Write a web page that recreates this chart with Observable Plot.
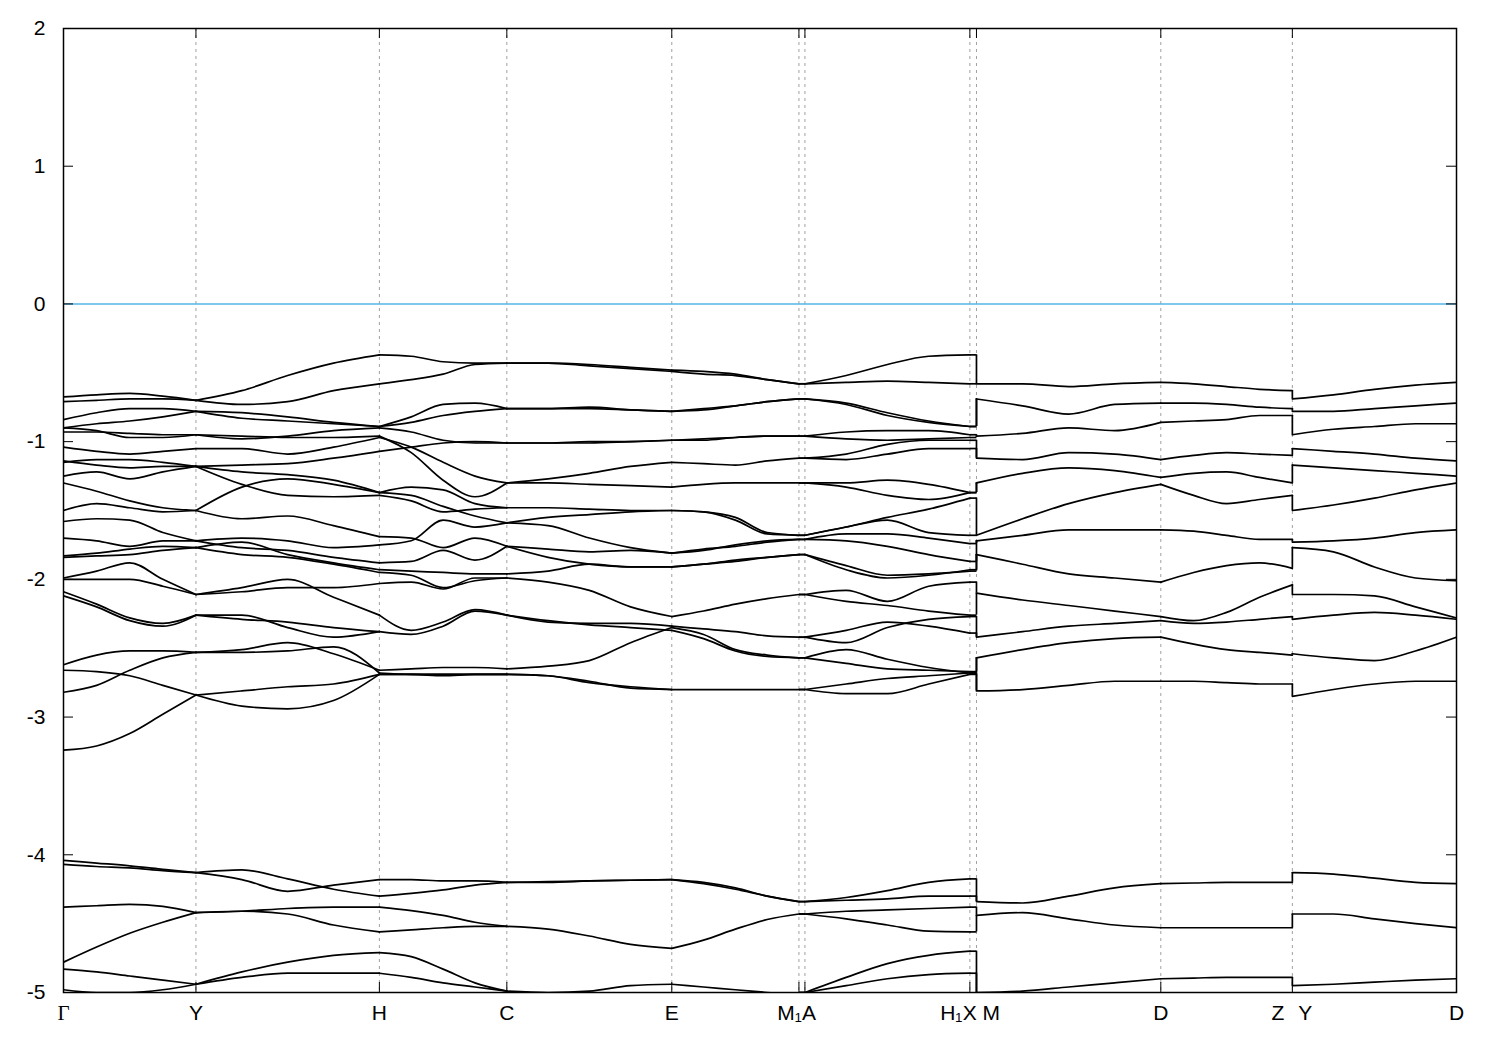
<!DOCTYPE html>
<html><head><meta charset="utf-8">
<script src="https://cdn.jsdelivr.net/npm/d3@7"></script>
<script src="https://cdn.jsdelivr.net/npm/@observablehq/plot@0.6"></script>
<style>body{margin:0;background:#fff;} svg{display:block}</style>
</head><body><div id="chart"></div>
<script>
// High-symmetry points along the k-path (path distance) and their labels
const kPos = [0, 132.5, 316, 443.5, 608.5, 735.7, 741.7, 906.7, 913.3, 1097.7, 1229.3, 1393.5];
const kLabels = ["Γ","Y","H","C","E","M₁","A","X","H₁|M","D","Z|Y","D"];
const yTicks = [-5,-4,-3,-2,-1,0,1,2];
const fermiLevel = [0];
const degeneracyMD = 2; // bands on M–D are pairwise degenerate

// Band energies (eV), sampled evenly along each path segment
const bandsGY = [
[-0.675,-0.66,-0.65,-0.67,-0.70],[-0.71,-0.70,-0.69,-0.69,-0.70],
[-0.84,-0.79,-0.76,-0.76,-0.78],[-0.90,-0.87,-0.85,-0.82,-0.78],
[-0.90,-0.92,-0.97,-0.97,-0.95],[-0.93,-0.93,-0.94,-0.95,-0.95],
[-1.04,-1.07,-1.09,-1.07,-1.05],[-1.14,-1.17,-1.19,-1.18,-1.18],
[-1.15,-1.13,-1.13,-1.15,-1.18],[-1.25,-1.22,-1.27,-1.22,-1.18],
[-1.30,-1.36,-1.43,-1.48,-1.50],[-1.50,-1.45,-1.48,-1.51,-1.50],
[-1.58,-1.56,-1.57,-1.66,-1.72],[-1.70,-1.72,-1.76,-1.72,-1.72],
[-1.83,-1.81,-1.78,-1.76,-1.77],[-1.84,-1.83,-1.82,-1.79,-1.77],
[-1.99,-1.94,-1.88,-2.00,-2.11],[-2.00,-2.00,-2.00,-2.05,-2.11],
[-2.09,-2.18,-2.28,-2.32,-2.26],[-2.12,-2.20,-2.30,-2.34,-2.26],
[-2.62,-2.55,-2.52,-2.52,-2.53],[-2.66,-2.67,-2.70,-2.77,-2.84],
[-2.82,-2.77,-2.66,-2.57,-2.53],[-3.24,-3.21,-3.12,-2.98,-2.84],
[-4.04,-4.06,-4.08,-4.105,-4.13],[-4.07,-4.085,-4.095,-4.115,-4.13],
[-4.38,-4.37,-4.36,-4.375,-4.42],[-4.78,-4.67,-4.57,-4.49,-4.42],
[-4.83,-4.85,-4.88,-4.91,-4.94],[-4.98,-5.0,-5.0,-4.98,-4.94]
];
const bandsYH = [
[-0.70,-0.63,-0.52,-0.43,-0.37],[-0.70,-0.73,-0.71,-0.63,-0.58],
[-0.78,-0.79,-0.82,-0.86,-0.89],[-0.78,-0.83,-0.85,-0.87,-0.89],
[-0.95,-0.98,-0.96,-0.92,-0.90],[-0.95,-0.96,-0.97,-0.97,-0.96],
[-1.05,-1.05,-1.09,-1.04,-0.97],[-1.18,-1.31,-1.39,-1.40,-1.39],
[-1.18,-1.17,-1.16,-1.12,-1.07],[-1.18,-1.22,-1.24,-1.28,-1.37],
[-1.50,-1.33,-1.27,-1.31,-1.37],[-1.50,-1.56,-1.54,-1.61,-1.69],
[-1.72,-1.77,-1.79,-1.84,-1.88],[-1.72,-1.70,-1.72,-1.77,-1.75],
[-1.77,-1.73,-1.82,-1.88,-1.93],[-1.77,-1.82,-1.84,-1.89,-1.95],
[-2.11,-2.06,-2.00,-2.13,-2.26],[-2.11,-2.09,-2.06,-2.06,-2.03],
[-2.26,-2.29,-2.31,-2.35,-2.38],[-2.26,-2.26,-2.35,-2.42,-2.38],
[-2.53,-2.51,-2.46,-2.54,-2.66],[-2.53,-2.53,-2.52,-2.49,-2.68],
[-2.84,-2.92,-2.94,-2.88,-2.69],[-2.84,-2.81,-2.78,-2.76,-2.69],
[-4.13,-4.11,-4.175,-4.25,-4.30],[-4.13,-4.18,-4.265,-4.22,-4.18],
[-4.42,-4.41,-4.39,-4.38,-4.38],[-4.42,-4.41,-4.43,-4.51,-4.56],
[-4.94,-4.85,-4.78,-4.73,-4.71],[-4.94,-4.89,-4.86,-4.86,-4.86]
];
const bandsHC = [
[-0.37,-0.38,-0.42,-0.43,-0.43],[-0.58,-0.55,-0.51,-0.44,-0.43],
[-0.89,-0.82,-0.73,-0.72,-0.76],[-0.89,-0.86,-0.81,-0.78,-0.76],
[-0.90,-0.93,-0.99,-1.01,-1.01],[-0.96,-1.08,-1.28,-1.40,-1.30],
[-0.97,-1.04,-1.15,-1.25,-1.30],[-1.07,-1.04,-1.01,-1.00,-1.01],
[-1.37,-1.33,-1.35,-1.45,-1.48],[-1.39,-1.43,-1.51,-1.49,-1.48],
[-1.37,-1.39,-1.47,-1.54,-1.59],[-1.69,-1.70,-1.77,-1.70,-1.76],
[-1.75,-1.72,-1.57,-1.62,-1.59],[-1.88,-1.87,-1.79,-1.86,-1.76],
[-1.93,-1.94,-1.95,-1.96,-1.96],[-1.95,-1.97,-2.06,-2.01,-1.99],
[-2.03,-2.02,-2.07,-1.99,-1.99],[-2.26,-2.37,-2.31,-2.22,-2.26],
[-2.38,-2.40,-2.34,-2.23,-2.26],[-2.66,-2.65,-2.64,-2.64,-2.65],
[-2.68,-2.69,-2.69,-2.69,-2.69],[-2.69,-2.69,-2.69,-2.69,-2.69],
[-2.69,-2.69,-2.70,-2.69,-2.69],
[-4.30,-4.28,-4.255,-4.22,-4.20],[-4.18,-4.18,-4.19,-4.19,-4.20],
[-4.38,-4.405,-4.44,-4.49,-4.52],[-4.56,-4.545,-4.53,-4.52,-4.52],
[-4.71,-4.74,-4.83,-4.93,-4.99],[-4.86,-4.89,-4.93,-4.96,-4.99]
];
const bandsCE = [
[-0.43,-0.43,-0.44,-0.46,-0.48],[-0.43,-0.43,-0.45,-0.47,-0.49],
[-0.76,-0.76,-0.75,-0.77,-0.78],[-0.76,-0.76,-0.76,-0.77,-0.78],
[-1.01,-1.01,-1.00,-1.00,-0.99],[-1.01,-1.01,-1.01,-1.00,-0.99],
[-1.30,-1.27,-1.23,-1.18,-1.15],[-1.30,-1.30,-1.31,-1.32,-1.33],
[-1.48,-1.48,-1.49,-1.50,-1.50],[-1.59,-1.55,-1.53,-1.51,-1.50],
[-1.59,-1.61,-1.70,-1.77,-1.81],[-1.76,-1.78,-1.80,-1.79,-1.81],
[-1.76,-1.84,-1.89,-1.91,-1.91],[-1.96,-1.94,-1.89,-1.91,-1.91],
[-1.99,-2.02,-2.08,-2.20,-2.27],[-2.26,-2.31,-2.32,-2.32,-2.34],
[-2.26,-2.30,-2.33,-2.35,-2.37],[-2.65,-2.63,-2.59,-2.46,-2.35],
[-2.69,-2.70,-2.75,-2.78,-2.80],[-2.69,-2.70,-2.74,-2.79,-2.80],
[-4.20,-4.195,-4.19,-4.185,-4.18],[-4.20,-4.20,-4.19,-4.185,-4.18],
[-4.52,-4.54,-4.59,-4.65,-4.68],[-4.99,-5.0,-4.99,-4.95,-4.94]
];
const bandsEM = [
[-0.48,-0.49,-0.51,-0.55,-0.58],[-0.49,-0.51,-0.52,-0.55,-0.58],
[-0.78,-0.76,-0.74,-0.71,-0.69],[-0.78,-0.77,-0.74,-0.71,-0.69],
[-0.99,-0.98,-0.97,-0.96,-0.96],[-0.99,-0.99,-0.97,-0.96,-0.96],
[-1.15,-1.16,-1.17,-1.14,-1.12],[-1.33,-1.31,-1.30,-1.30,-1.30],
[-1.50,-1.51,-1.55,-1.66,-1.68],[-1.50,-1.51,-1.57,-1.67,-1.68],
[-1.81,-1.78,-1.76,-1.73,-1.71],[-1.81,-1.79,-1.75,-1.72,-1.71],
[-1.91,-1.89,-1.87,-1.84,-1.82],[-1.91,-1.89,-1.86,-1.84,-1.82],
[-2.27,-2.23,-2.18,-2.14,-2.11],[-2.34,-2.36,-2.38,-2.41,-2.42],
[-2.37,-2.43,-2.52,-2.56,-2.57],[-2.35,-2.40,-2.51,-2.55,-2.57],
[-2.80,-2.80,-2.80,-2.80,-2.80],
[-4.18,-4.20,-4.24,-4.30,-4.34],[-4.18,-4.21,-4.25,-4.30,-4.34],
[-4.68,-4.62,-4.54,-4.47,-4.43],[-4.94,-4.96,-4.98,-5.0,-5.02]
];
const bandsAX = [
[-0.58,-0.52,-0.44,-0.38,-0.37],[-0.58,-0.57,-0.56,-0.57,-0.58],
[-0.69,-0.72,-0.79,-0.85,-0.89],[-0.69,-0.73,-0.81,-0.86,-0.89],
[-0.96,-0.93,-0.92,-0.92,-0.95],[-0.96,-0.98,-0.99,-0.98,-0.97],
[-1.12,-1.09,-1.02,-0.99,-0.99],[-1.12,-1.13,-1.09,-1.05,-1.05],
[-1.30,-1.30,-1.28,-1.31,-1.37],[-1.30,-1.33,-1.39,-1.42,-1.37],
[-1.68,-1.62,-1.55,-1.49,-1.41],[-1.68,-1.62,-1.57,-1.66,-1.68],
[-1.71,-1.72,-1.76,-1.82,-1.87],[-1.71,-1.67,-1.67,-1.70,-1.74],
[-1.82,-1.90,-1.97,-1.96,-1.94],[-1.82,-1.93,-1.99,-1.97,-1.93],
[-2.11,-2.08,-2.16,-2.05,-2.02],[-2.11,-2.16,-2.19,-2.23,-2.26],
[-2.42,-2.46,-2.35,-2.29,-2.27],[-2.42,-2.37,-2.31,-2.34,-2.39],
[-2.57,-2.51,-2.58,-2.64,-2.68],[-2.57,-2.61,-2.65,-2.66,-2.67],
[-2.80,-2.76,-2.72,-2.70,-2.68],[-2.80,-2.83,-2.83,-2.76,-2.69],
[-4.34,-4.31,-4.26,-4.20,-4.175],[-4.34,-4.33,-4.32,-4.30,-4.30],
[-4.43,-4.41,-4.40,-4.39,-4.38],[-4.43,-4.465,-4.51,-4.555,-4.56],
[-5.0,-4.89,-4.79,-4.73,-4.70],[-5.0,-4.95,-4.90,-4.87,-4.86]
];
const bandsMD = [
[-0.58,-0.58,-0.60,-0.58,-0.57],[-0.69,-0.74,-0.80,-0.73,-0.72],
[-0.96,-0.94,-0.90,-0.92,-0.86],[-1.12,-1.13,-1.08,-1.09,-1.13],
[-1.30,-1.23,-1.19,-1.21,-1.26],[-1.68,-1.56,-1.45,-1.37,-1.31],
[-1.72,-1.68,-1.64,-1.64,-1.64],[-1.82,-1.89,-1.96,-1.99,-2.02],
[-2.10,-2.15,-2.19,-2.23,-2.27],[-2.42,-2.38,-2.34,-2.32,-2.30],
[-2.57,-2.51,-2.46,-2.43,-2.42],[-2.81,-2.80,-2.77,-2.74,-2.74],
[-4.34,-4.35,-4.30,-4.24,-4.21],[-4.44,-4.42,-4.465,-4.51,-4.53],
[-5.0,-4.99,-4.96,-4.93,-4.90]
];
const bandsDZ = [
[-0.57,-0.58,-0.60,-0.62,-0.63],[-0.72,-0.72,-0.73,-0.75,-0.76],
[-0.86,-0.85,-0.84,-0.81,-0.81],[-1.13,-1.10,-1.08,-1.09,-1.10],
[-1.26,-1.23,-1.22,-1.26,-1.30],[-1.31,-1.39,-1.45,-1.42,-1.39],
[-1.64,-1.65,-1.68,-1.71,-1.71],[-2.02,-1.95,-1.90,-1.88,-1.92],
[-2.27,-2.30,-2.24,-2.13,-2.04],[-2.30,-2.32,-2.31,-2.29,-2.27],
[-2.42,-2.47,-2.51,-2.53,-2.55],[-2.74,-2.74,-2.75,-2.76,-2.76],
[-4.21,-4.205,-4.20,-4.20,-4.20],[-4.53,-4.53,-4.53,-4.53,-4.53],
[-4.90,-4.895,-4.89,-4.89,-4.89]
];
const bandsYD = [
[-0.69,-0.66,-0.62,-0.59,-0.57],[-0.78,-0.78,-0.76,-0.74,-0.72],
[-0.95,-0.91,-0.89,-0.87,-0.87],[-1.05,-1.07,-1.09,-1.12,-1.14],
[-1.17,-1.19,-1.21,-1.23,-1.25],[-1.50,-1.46,-1.41,-1.35,-1.30],
[-1.73,-1.72,-1.70,-1.66,-1.64],[-1.77,-1.80,-1.91,-1.99,-2.01],
[-2.11,-2.11,-2.12,-2.20,-2.28],[-2.29,-2.26,-2.24,-2.26,-2.29],
[-2.54,-2.57,-2.59,-2.52,-2.42],[-2.85,-2.80,-2.76,-2.74,-2.74],
[-4.13,-4.14,-4.17,-4.20,-4.21],[-4.43,-4.43,-4.465,-4.50,-4.53],
[-4.95,-4.94,-4.925,-4.91,-4.90]
];

// segments: [start point index, end point index, bands]
const segments = [
  [0,1,bandsGY],[1,2,bandsYH],[2,3,bandsHC],[3,4,bandsCE],[4,5,bandsEM],
  [6,7,bandsAX],[8,9,bandsMD],[9,10,bandsDZ],[10,11,bandsYD]
];
const rows = [];
segments.forEach(([a,b,bands],s) => bands.forEach((vals,i) => vals.forEach((e,j) =>
  rows.push({id:`${s}-${i}`, k: kPos[a] + (kPos[b]-kPos[a])*j/(vals.length-1), e}))));

// short flat pieces M1–A and X–H1
const flats = [
  ...bandsAX.map(v => ({k1:kPos[5], k2:kPos[6], e:v[0]})),
  ...bandsAX.map(v => ({k1:kPos[7], k2:kPos[8], e:v[v.length-1]}))
];
// vertical jumps at path discontinuities (pair bands by energy order)
const desc = (a,b) => b - a;
function jumps(k, left, right) {
  const L = [...left].sort(desc), R = [...right].sort(desc);
  return L.map((e,i) => ({k, e1:e, e2:R[i]}));
}
const conn = [
  ...jumps(kPos[8], bandsAX.map(v=>v[v.length-1]), bandsMD.flatMap(v=>Array(degeneracyMD).fill(v[0]))),
  ...jumps(kPos[10], bandsDZ.map(v=>v[v.length-1]), bandsYD.map(v=>v[0]))
];

// label pieces: split "a|b" labels into a left part and a right part;
// labels of ticks that sit very close together are pushed apart
const pieces = [];
kLabels.forEach((name, i) => {
  const k = kPos[i];
  if (name.includes("|")) {
    const [l, r] = name.split("|");
    const leftGap = (i > 0 && k - kPos[i-1] < 10) ? 14 : 8;
    pieces.push({k, text:l, anchor:"end", dx:-leftGap});
    pieces.push({k, text:r, anchor:"start", dx:6});
  } else if (i + 1 < kPos.length && kPos[i+1] - k < 10 && !kLabels[i+1].includes("|")) {
    pieces.push({k, text:name, anchor:"end", dx:3});
  } else if (i > 0 && k - kPos[i-1] < 10 && !kLabels[i-1].includes("|")) {
    pieces.push({k, text:name, anchor:"start", dx:-3});
  } else {
    pieces.push({k, text:name, anchor:"middle", dx:0});
  }
});

const W = 1500, H = 1050, mL = 63, mR = 44, mT = 28, mB = 58;
const pw = W - mL - mR, ph = H - mT - mB;
const fs = 21;
const bandStroke = 1.7;

const labelMarks = ["start","middle","end"].flatMap(anchor =>
  [...new Set(pieces.filter(p => p.anchor === anchor).map(p => p.dx))].map(dx =>
    Plot.text(pieces.filter(p => p.anchor === anchor && p.dx === dx),
      {x:"k", text:"text", frameAnchor:"bottom", dy:27, dx, textAnchor:anchor, fontSize:fs})));

const chart = Plot.plot({
  width: W, height: H, marginLeft: mL, marginRight: mR, marginTop: mT, marginBottom: mB,
  style: {fontFamily: "'Liberation Sans', Arial, sans-serif", fontSize: fs + "px", color: "black", background: "white"},
  x: {domain: [kPos[0], kPos[kPos.length-1]], axis: null},
  y: {domain: [-5, 2]},
  marks: [
    Plot.ruleX(kPos.slice(1,-1), {stroke:"#a0a0a0", strokeDasharray:"3,4", strokeWidth:1}),
    Plot.ruleY(fermiLevel, {stroke:"#56b4e9", strokeWidth:1.5}),
    Plot.line(rows, {x:"k", y:"e", z:"id", curve:"monotone-x", stroke:"black", strokeWidth:bandStroke, clip:true}),
    Plot.link(flats, {x1:"k1", x2:"k2", y1:"e", y2:"e", stroke:"black", strokeWidth:bandStroke, clip:true}),
    Plot.ruleX(conn, {x:"k", y1:"e1", y2:"e2", stroke:"black", strokeWidth:bandStroke, clip:true}),
    Plot.tickY(yTicks, {y:d=>d, insetRight:pw-10, stroke:"black"}),
    Plot.tickY(yTicks, {y:d=>d, insetLeft:pw-10, stroke:"black"}),
    Plot.tickX(kPos, {x:d=>d, insetTop:ph-10, stroke:"black"}),
    Plot.tickX(kPos, {x:d=>d, insetBottom:ph-10, stroke:"black"}),
    Plot.frame({stroke:"black", strokeWidth:1.5}),
    Plot.axisY(yTicks, {tickSize:0, tickPadding:18, tickFormat:d=>String(d), fontSize:fs}),
    ...labelMarks
  ]
});
d3.select(chart).selectAll("text").filter(function(){ return this.textContent === "Γ"; })
  .attr("font-family", "'Liberation Serif', 'DejaVu Serif', serif");
document.getElementById("chart").appendChild(chart);
</script>
</body></html>
